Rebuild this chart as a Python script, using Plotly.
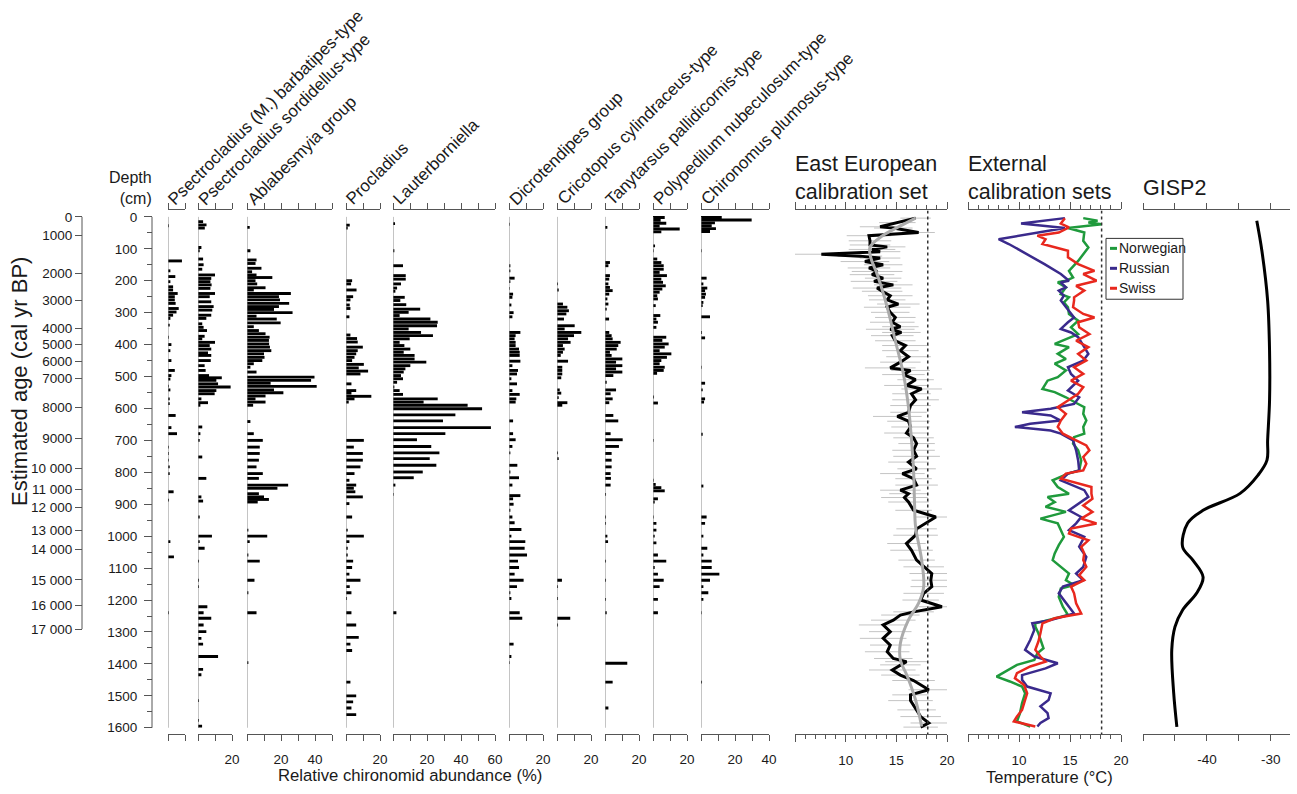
import plotly.graph_objects as go

W, H = 1297, 794          # reference picture size (coordinates below are in its pixels)
FIG_W = 1305              # layout width (the page is captured ~8px wider and scaled back)
FONT = "Liberation Sans, Arial, Helvetica, sans-serif"

# ---------------- data ----------------
taxa = ["Psectrocladius (M.) barbatipes-type", "Psectrocladius sordidellus-type",
        "Ablabesmyia group", "Procladius", "Lauterborniella", "Dicrotendipes group",
        "Cricotopus cylindraceus-type", "Tanytarsus pallidicornis-type",
        "Polypedilum nubeculosum-type", "Chironomus plumosus-type"]

d_barb = [28,138,169,187,203,219,229,240,250,260,271,287,298,308,318,339,377,400,419,450,481,497,508,530,542,570,585,622,660,679,721,741,762,783,804,861,887,1017,1065,1240]
v_barb = [0.5,8.2,1.4,4.3,1.4,3,3,5.7,4,4,4.5,6.3,5,3,1.4,1,0.5,2,1.4,2,4,2,1.4,0.5,1.4,1,1,4.5,2,5.3,0.5,0.5,0.5,1,1,3.3,0.6,1.4,3.5,0.5]

d_sord = [15,25,35,96,106,132,150,164,182,193,203,213,224,240,250,266,281,292,308,318,335,346,356,374,382,393,403,414,426,434,450,466,481,497,504,512,523,533,544,554,570,582,590,658,679,700,752,819,877,890,940,1000,1017,1038,1078,1138,1158,1221,1240,1257,1278,1299,1320,1338,1377,1417,1434,1515,1577,1595]
v_sord = [3,5,4,2,1,3,3.3,2.5,10,7.8,7.3,8,7.3,10,6.9,7.8,9.2,8.4,7.8,4.9,2.5,3.3,5.3,3.9,2.5,10,6.9,7.8,5.9,7.8,7.5,3.9,4.5,6.5,14,10.8,11.8,19.2,10.8,9.8,2,5.9,1.4,2.5,1.4,1,2.5,4.9,2,3,1,8.2,1,3.9,0.6,0.6,0.6,5.5,3.3,7.8,3.3,4.9,2,3,11.8,3,2,0.6,0.6,2.4]

d_abla = [33,106,135,146,161,172,182,190,200,210,222,229,240,250,260,271,281,290,300,311,320,332,344,356,366,377,387,398,408,419,429,440,450,460,471,486,502,512,521,531,542,551,561,570,580,590,641,679,700,721,741,762,783,804,819,840,850,867,877,885,893,981,1000,1017,1059,1078,1138,1177,1240,1396]
v_abla = [1.6,2,5.6,5,8.5,3,5.6,14.9,5,6,10.9,4,25.8,18.8,19.4,24.8,18.8,15.9,26.8,5.6,17.5,19.8,4,7,10.9,13.3,12.9,13,13.5,14.3,10,10.3,9,4,2,5.6,39.7,37.7,13.9,41,15.9,21.4,10.9,5,10.9,3.6,2,4,9.3,7.5,7.5,7,5.6,9.3,7,24.2,17.9,7,10,12.9,6.3,0.8,11.9,1.6,0.8,7.5,4.4,0.8,5.6,0.8]

d_proc = [26,35,200,210,229,250,260,276,287,313,370,381,392,408,419,429,440,450,462,473,483,492,523,544,552,562,570,580,700,721,741,762,783,804,825,840,850,861,877,898,940,981,1000,1017,1038,1059,1078,1098,1119,1138,1158,1177,1195,1240,1278,1317,1338,1358,1457,1500,1519,1538,1559]
v_proc = [2.2,1,3.6,3,6.2,4.2,2.6,2.2,2.6,2,2.6,6.5,6.9,9.9,6.9,6,5,3.6,10.5,7.5,13,8.5,3.2,6,3.2,14.9,5,1.6,10.5,4.6,9.9,9.9,8.5,5,2,6,4.6,5.5,9.9,2,3.6,1,10.5,2,1,1,4.2,3.6,2,8.5,2.2,3.2,0.6,3.2,6,7.5,2.6,3.6,2.6,6,4.2,3.2,6]

d_laut = [21,106,153,184,195,210,223,233,252,262,275,289,299,309,320,330,341,351,362,372,382,393,403,414,424,434,445,455,466,476,486,497,507,518,533,544,556,570,580,590,601,620,639,660,679,698,719,739,757,778,799,817,840,869,1240]
v_laut = [1.2,0.8,5.9,7.5,7.5,4.7,2.4,1.4,6.9,4.3,7.8,16,9.2,3.9,22,26.3,25.9,9.2,16.5,23.5,9.8,3.9,6.7,10.2,6.3,12.7,12.7,19.6,10.2,7.3,6.3,4.7,5.9,2.4,0.8,3.9,5.9,26.3,18,43.9,52.4,36.7,29.4,57.6,30.8,14.1,22.5,27.3,21.6,25.5,17.5,12.2,1.4,0.4,2]

d_dicr = [23,153,169,192,203,224,242,252,276,300,313,362,372,382,393,403,414,424,434,452,466,481,492,507,523,544,556,570,580,639,679,698,719,739,778,799,817,840,873,883,900,919,940,958,979,1000,1017,1038,1059,1078,1098,1119,1138,1158,1177,1195,1240,1257,1338,1377,1396]
v_dicr = [0.4,0.8,0.8,3.3,0.8,0.4,2.4,2,1.4,2.7,2,6.7,3.9,3.3,3.9,3.9,5.9,6.3,6.3,6.7,2,5.3,4.7,1.4,4.7,2,6.3,4.3,3.9,2.4,2.4,3.9,2,0.8,4.9,0.8,5.9,2,6.7,2.4,2.7,0.8,2,3.3,7.3,1.4,9.6,9.2,10.6,5.3,5.9,3.3,8.6,4.7,0.8,1.4,6.3,7.8,2.7,1.4,0.4]

d_cric = [210,229,273,283,294,304,320,341,351,362,372,382,393,403,414,424,434,452,471,481,492,504,542,552,566,582,590,739,757,1138,1158,1195,1257,1278]
v_cric = [0.6,1,3.5,6.1,7,5.5,4.1,10.4,4.5,14.3,10,6.5,8,3.5,4.5,3.5,2.2,6.5,3.1,3.1,3.1,2.5,1.6,2.5,1,6.1,3.1,0.6,1,2.9,0.6,0.6,7.8,0.6]

d_tany = [33,143,153,184,195,210,221,231,242,257,273,289,320,362,372,382,393,403,414,424,434,445,455,466,476,486,497,518,542,554,570,582,622,639,679,698,719,741,762,783,804,819,840,869,940,960,1000,1017,1078,1138,1198,1240,1398,1457,1538]
v_tany = [1.4,2.9,2,2.9,2.5,2,2.9,4.5,2.5,1.4,2,1,2.4,2.5,3.9,4.5,9.2,7.8,6.9,2.9,3.9,10.2,6.5,10.2,6.5,10.2,4.9,1,6.5,3.3,4.5,2.5,4.9,7.8,3.3,10.4,8.2,3.9,3.9,3.9,3.3,3.5,3.3,0.6,0.6,0.6,1.4,1.8,0.6,0.6,0.6,1,13.1,4.5,2]

d_poly = [2,11,20,29,38,47,91,106,132,143,153,164,174,184,195,205,216,226,236,247,257,278,309,320,330,346,377,387,398,408,419,429,440,450,460,471,481,490,564,583,700,825,838,848,858,883,893,940,960,981,1000,1021,1059,1078,1098,1119,1138,1158,1198,1240]
v_poly = [6.9,4.5,7.8,3.9,15.7,4.9,1.2,0.4,2.5,4.9,6.3,6.3,3.9,8.2,4.9,5.9,7.5,5.5,3.9,2.5,2.9,1.6,4.3,2,2.9,2,7.8,5.5,9.2,6.9,3.9,10.8,8.2,4.9,3.9,6.9,6.3,2.4,0.6,2.9,0.4,0.4,1.6,4.9,6.9,2.9,1,0.4,2,2,1,2,2.9,7.8,1,2.9,6.3,3.9,2.9,2.9]

d_chir = [2,10,19,28,37,46,106,192,210,223,231,242,252,268,278,313,362,379,471,521,542,570,580,681,843,940,960,1000,1038,1059,1078,1098,1119,1138,1158,1177,1198,1240,1457]
v_chir = [12.2,29.8,8.2,6.3,8.8,5.3,0.4,3.3,1.4,3.7,2.4,2.9,2.4,1.4,1,5.3,0.6,2.4,0.4,2.4,1,2.4,1.8,1,1.4,3.3,2.4,1.4,3.7,1.4,6.3,6.3,10.8,5.3,1.4,4.3,1.4,0.4,0.6]

taxa_depths = [d_barb, d_sord, d_abla, d_proc, d_laut, d_dicr, d_cric, d_tany, d_poly, d_chir]
taxa_values = [v_barb, v_sord, v_abla, v_proc, v_laut, v_dicr, v_cric, v_tany, v_poly, v_chir]
taxa_max = [10, 20, 50, 20, 60, 20, 20, 20, 20, 40]
taxa_ticklabels = [[], [20], [20, 40], [20], [20, 40, 60], [20], [20], [20], [20], [20, 40]]

# East European calibration set reconstruction
ee_depth = [4,18,31,35,49,59,75,88,94,102,109,117,123,129,140,150,160,171,181,192,202,213,223,233,247,260,273,283,299,315,330,344,352,362,372,388,403,419,438,455,473,481,494,510,528,539,554,573,591,612,625,640,658,677,692,710,731,750,768,789,804,820,840,856,867,879,893,919,940,977,997,1023,1044,1075,1096,1117,1138,1158,1179,1200,1221,1237,1247,1263,1278,1299,1320,1341,1362,1383,1393,1403,1419,1435,1452,1481,1497,1515,1544,1565,1585,1598]
ee_temp = [16.9,15.1,13.4,14.7,17.2,12.3,12.4,12.4,14.1,12.6,13.4,7.6,11.4,13.4,11.9,13.7,12.3,13.1,12.6,13.7,12.8,14.7,13.1,13.6,14.4,14.1,15.2,14.1,14.4,14.9,14.6,15.4,14.4,15.5,14.6,14.9,15.9,15.4,16.2,15.4,14.4,16.4,15.7,16.9,16.0,17.5,16.5,16.9,16.4,16.2,15.1,16.2,16.4,16.0,16.7,17.0,16.7,17.0,16.2,17.0,15.6,16.7,17.0,15.4,16.2,15.8,16.2,16.7,18.9,17.0,16.9,16.0,16.5,17.0,17.7,18.5,18.4,18.5,17.7,17.4,19.5,16.7,15.4,14.7,13.7,14.4,13.7,14.4,14.1,14.7,16.0,15.4,14.6,15.4,16.7,18.2,16.4,16.4,17.0,17.4,18.2,17.4]
ee_err = [1.5,1.8,2.0,1.9,1.6,2.2,2.1,2.0,1.8,2.3,
          2.0,2.6,2.2,2.0,2.4,1.9,2.1,2.5,2.2,1.8,
          2.3,1.9,2.4,2.0,2.2,1.8,2.1,2.3,1.9,2.0,
          2.2,1.8,2.4,1.9,2.1,2.0,2.3,1.8,2.2,2.0,
          2.5,1.9,2.1,1.8,2.2,2.0,1.9,2.3,2.0,1.8,
          2.4,2.1,1.9,2.2,2.0,1.8,2.1,2.3,2.0,1.9,
          2.2,1.8,2.1,2.0,1.9,2.3,2.0,1.8,2.1,2.0,
          2.2,1.9,2.1,1.8,2.0,2.2,1.9,2.1,2.0,1.8,
          2.3,2.0,1.9,2.2,2.4,2.1,2.3,2.0,2.2,1.9,
          2.1,2.0,2.3,1.9,2.1,2.0,1.8,2.2,1.9,2.0,
          1.8,1.7]
smooth_depth = [4,30,60,95,130,179,283,388,492,596,700,794,900,971,1075,1158,1210,1262,1335,1388,1440,1513,1596]
smooth_temp = [16.9,15.3,13.6,12.4,12.5,13.1,14.1,14.9,15.7,16.2,16.5,16.7,16.8,16.9,17.5,17.7,17.2,16.2,15.4,15.4,16.1,16.9,17.5]
modern_temp = 18.1

# External calibration sets
nor_depth = [4,12,18,23,35,49,75,96,117,138,169,190,200,205,221,242,252,268,283,304,325,346,367,388,398,408,429,445,460,481,502,513,539,549,565,586,596,617,638,658,679,690,710,731,763,794,804,825,846,867,877,893,908,924,945,960,981,1002,1028,1054,1075,1096,1117,1138,1153,1164,1190,1221,1247,1273,1283,1304,1325,1351,1367,1388,1403,1424,1440,1455,1471,1492,1523,1554,1580,1596]
nor_temp = [16.3,17.7,16.8,18.1,14.8,16.4,16.3,16.8,16.3,15.8,14.9,15.3,14.6,13.8,14.6,14.1,14.9,14.4,14.8,14.9,15.8,15.1,15.8,14.3,13.5,14.9,13.8,14.6,13.5,14.6,13.8,12.8,12.3,13.5,14.6,15.8,16.4,16.3,16.6,16.3,16.4,15.4,15.3,15.8,16.1,15.9,14.8,13.3,13.8,14.9,12.8,13.5,12.6,14.6,12.1,13.8,14.1,14.4,13.9,13.5,13.3,14.1,14.9,14.6,15.4,14.1,13.9,14.3,14.8,11.6,11.6,11.9,12.1,12.4,11.8,11.5,9.8,8.7,7.8,9.1,10.3,10.6,10.3,10.1,9.8,11.1]
rus_depth = [4,21,35,70,85,117,148,179,200,205,221,231,247,262,283,304,315,330,351,362,377,408,429,450,471,492,513,544,565,586,601,612,622,638,648,658,669,679,700,731,763,794,804,825,856,877,898,919,940,960,981,1002,1033,1065,1096,1117,1138,1158,1179,1210,1242,1263,1273,1294,1325,1356,1377,1398,1414,1435,1450,1471,1492,1513,1533,1554,1570,1585,1596]
rus_temp = [14.5,10.2,14.5,8.0,9.0,10.8,12.5,14.1,14.9,14.1,14.6,13.9,14.4,14.1,14.6,15.1,15.4,14.8,14.1,15.1,15.8,16.4,16.8,16.3,14.8,15.1,15.8,14.8,15.9,15.4,13.1,10.3,13.1,14.1,11.1,9.6,13.1,14.1,15.3,15.6,15.8,15.9,14.8,14.1,16.4,16.8,15.8,14.9,16.1,15.6,14.9,16.4,15.9,16.6,16.3,15.6,16.3,14.3,13.9,14.6,15.4,13.1,11.3,11.5,11.1,10.6,11.5,13.8,12.6,10.3,10.3,10.8,13.1,12.9,12.1,12.8,12.9,12.1,11.8]
swi_depth = [4,21,33,49,59,70,85,106,127,148,169,179,200,216,231,252,262,283,304,315,330,346,367,388,408,429,450,471,492,513,533,554,575,596,617,638,658,679,700,716,731,752,773,794,804,820,846,867,883,904,924,945,960,976,992,1013,1033,1054,1075,1096,1122,1138,1158,1179,1210,1242,1257,1273,1304,1330,1356,1377,1393,1408,1429,1445,1466,1492,1513,1544,1565,1580,1596]
swi_temp = [14.5,14.1,14.9,13.9,11.8,12.6,12.3,14.8,14.8,15.8,17.4,16.3,17.6,15.6,16.4,15.4,15.4,15.3,16.3,17.4,15.8,15.9,16.9,15.6,16.8,15.8,16.6,15.4,16.3,15.1,16.3,15.8,14.8,13.8,14.6,14.1,13.8,14.3,15.6,16.6,16.9,16.3,16.6,16.3,14.6,14.1,17.1,17.1,17.2,16.3,17.2,16.1,17.6,15.1,14.9,16.8,16.1,16.4,16.3,16.6,15.9,16.4,15.1,15.4,15.6,16.1,13.5,12.3,12.1,11.9,11.6,12.1,12.6,11.1,9.8,9.6,10.5,10.8,10.6,10.3,9.8,9.5,11.6]
ext_names = ["Norwegian", "Russian", "Swiss"]

# GISP2
gisp_depth = [12,106,262,419,575,700,762,809,866,919,959,1034,1075,1128,1178,1231,1284,1356,1491,1597]
gisp_value = [-32.2,-31.4,-30.5,-30.2,-30.2,-30.5,-30.6,-32.0,-34.8,-40.6,-43.0,-43.8,-42.2,-40.6,-41.6,-43.8,-45.0,-45.5,-45.2,-44.7]

# age-depth model ticks
age_labels = ["0","1000","2000","3000","4000","5000","6000","7000","8000","9000",
              "10 000","11 000","12 000","13 000","14 000","15 000","16 000","17 000"]
age_depth = [0,59,178,262,350,400,453,506,597,694,788,853,909,981,1041,1137,1216,1291]
depth_ticks = list(range(0, 1601, 100))

# ---------------- layout helpers ----------------
def fx(p):
    return p / W

def fy(p):
    return 1 - p / H

Y_TOP, Y_BOT = 210, 735
YRANGE = [1620, -20]
SCALE = 1.7
panel_x0 = [168, 198, 247, 346, 393, 509, 557, 605, 653, 701]
AX_COL = "#555555"
TXT_COL = "#1a1a1a"
TICK_FONT = dict(size=13.5, color=TXT_COL, family=FONT)

fig = go.Figure()
shapes = []
annotations = []

base_axis = dict(showline=True, linecolor=AX_COL, linewidth=1, mirror="ticks",
                 ticks="outside", ticklen=6, tickcolor=AX_COL, tickwidth=1,
                 showgrid=False, zeroline=False, anchor="y", fixedrange=True,
                 ticklabelstandoff=7, tickfont=TICK_FONT)

for i in range(10):
    n = i + 1
    axname = "x" if n == 1 else f"x{n}"
    key = "xaxis" if n == 1 else f"xaxis{n}"
    x0 = panel_x0[i]
    xmax = taxa_max[i]
    fig.add_trace(go.Bar(y=taxa_depths[i], x=taxa_values[i], orientation="h", width=9,
                         marker=dict(color="black", line=dict(width=0)),
                         xaxis=axname, yaxis="y", showlegend=False, hoverinfo="skip"))
    tv = list(range(0, xmax + 1, 10))
    tt = [str(t) if t in taxa_ticklabels[i] else "" for t in tv]
    fig.layout[key] = dict(base_axis, domain=[fx(x0), fx(x0 + xmax * SCALE)], range=[0, xmax],
                           tickmode="array", tickvals=tv, ticktext=tt)
    shapes.append(dict(type="line", xref=axname, yref="y", x0=0, x1=0, y0=0, y1=1600,
                       line=dict(color="#8a8a8a", width=1)))
    annotations.append(dict(text=taxa[i], xref="paper", yref="paper", x=fx(x0 - 6), y=fy(211),
                            xanchor="left", yanchor="bottom", textangle=-45, showarrow=False,
                            font=dict(size=17, color=TXT_COL, family=FONT)))

# East European panel (x11)
fig.add_trace(go.Scatter(x=ee_temp, y=ee_depth, mode="markers", marker=dict(size=1, opacity=0),
                         error_x=dict(type="data", array=ee_err, color="#c4c4c4", thickness=1, width=0),
                         xaxis="x11", yaxis="y", showlegend=False, hoverinfo="skip"))
fig.add_trace(go.Scatter(x=ee_temp, y=ee_depth, mode="lines", line=dict(color="black", width=3),
                         xaxis="x11", yaxis="y", showlegend=False, hoverinfo="skip"))
fig.add_trace(go.Scatter(x=smooth_temp, y=smooth_depth, mode="lines", line=dict(color="#ababab", width=3, shape="spline"),
                         xaxis="x11", yaxis="y", showlegend=False, hoverinfo="skip"))
temp_axis = dict(base_axis, range=[5, 20], tickmode="array", tickvals=[5, 10, 15, 20],
                 ticktext=["", "10", "15", "20"], ticklen=7,
                 minor=dict(tickmode="array", tickvals=[6,7,8,9,11,12,13,14,16,17,18,19],
                            ticklen=4, ticks="outside", tickcolor=AX_COL))
fig.layout["xaxis11"] = dict(temp_axis, domain=[fx(795), fx(947)])
shapes.append(dict(type="line", xref="x11", yref="y", x0=modern_temp, x1=modern_temp, y0=-20, y1=1620,
                   line=dict(color="#333333", width=1.5, dash="dot")))

# External calibration sets (x12)
ext_cols = ["#1f9a3c", "#3a2a8c", "#e8281e"]
for dd, tt, col in [(nor_depth, nor_temp, ext_cols[0]), (rus_depth, rus_temp, ext_cols[1]), (swi_depth, swi_temp, ext_cols[2])]:
    fig.add_trace(go.Scatter(x=tt, y=dd, mode="lines", line=dict(color=col, width=2.5),
                             xaxis="x12", yaxis="y", showlegend=False, hoverinfo="skip"))
fig.layout["xaxis12"] = dict(temp_axis, domain=[fx(968), fx(1121)])
shapes.append(dict(type="line", xref="x12", yref="y", x0=modern_temp, x1=modern_temp, y0=-20, y1=1620,
                   line=dict(color="#333333", width=1.5, dash="dot")))

# GISP2 (x13)
fig.add_trace(go.Scatter(x=gisp_value, y=gisp_depth, mode="lines", line=dict(color="black", width=3, shape="spline"),
                         xaxis="x13", yaxis="y", showlegend=False, hoverinfo="skip"))
fig.layout["xaxis13"] = dict(base_axis, domain=[fx(1143), fx(1290)], range=[-50, -27], tickmode="array",
                             tickvals=[-50, -45, -40, -35, -30], ticktext=["", "", "-40", "", "-30"], ticklen=6)

# depth axis and age axis
fig.add_trace(go.Scatter(x=[0], y=[0], mode="markers", marker=dict(opacity=0), xaxis="x", yaxis="y2",
                         showlegend=False, hoverinfo="skip"))
fig.layout["yaxis"] = dict(domain=[fy(Y_BOT), fy(Y_TOP)], range=YRANGE, anchor="free", position=fx(152),
                           side="left", tickmode="array", tickvals=depth_ticks, ticks="outside", ticklen=8,
                           tickcolor=AX_COL, showline=False, showgrid=False, zeroline=False, fixedrange=True,
                           ticklabelstandoff=4,
                           minor=dict(tickmode="array", tickvals=[t + 50 for t in depth_ticks[:-1]], ticklen=5,
                                      ticks="outside", tickcolor=AX_COL),
                           tickfont=TICK_FONT)
fig.layout["yaxis2"] = dict(overlaying="y", range=YRANGE, anchor="free", position=fx(82), side="left",
                            tickmode="array", tickvals=age_depth, ticktext=age_labels, ticks="outside",
                            ticklen=7, tickcolor=AX_COL, showline=False, showgrid=False, zeroline=False,
                            fixedrange=True, tickfont=TICK_FONT)
shapes.append(dict(type="line", xref="paper", yref="y", x0=fx(152), x1=fx(152), y0=0, y1=1600,
                   line=dict(color=AX_COL, width=1)))
shapes.append(dict(type="line", xref="paper", yref="y", x0=fx(82), x1=fx(82), y0=0, y1=age_depth[-1],
                   line=dict(color=AX_COL, width=1)))

# legend (drawn manually)
shapes.append(dict(type="rect", xref="paper", yref="paper", x0=fx(1106), x1=fx(1183), y0=fy(299), y1=fy(238),
                   line=dict(color="#333333", width=1), fillcolor="white"))
for k, (nm, col) in enumerate(zip(ext_names, ext_cols)):
    yy = 248 + k * 20
    shapes.append(dict(type="line", xref="paper", yref="paper", x0=fx(1110), x1=fx(1117), y0=fy(yy), y1=fy(yy),
                       line=dict(color=col, width=3)))
    annotations.append(dict(text=nm, xref="paper", yref="paper", x=fx(1117), y=fy(yy), xanchor="left",
                            yanchor="middle", showarrow=False, font=dict(size=14, color=TXT_COL, family=FONT)))

def txt(t, x, y, xa="left", ya="middle", size=15, angle=0, align="left"):
    annotations.append(dict(text=t, xref="paper", yref="paper", x=fx(x), y=fy(y), xanchor=xa, yanchor=ya,
                            showarrow=False, textangle=angle, align=align,
                            font=dict(size=size, color=TXT_COL, family=FONT)))

txt("Depth<br>(cm)", 154, 187, xa="right", align="right", size=16)
txt("Estimated age (cal yr BP)", 19, 382, xa="center", ya="middle", size=22, angle=-90)
txt("Relative chironomid abundance (%)", 410, 776, xa="center", size=16.7)
txt("East European<br>calibration set", 793, 177, size=21.5)
txt("External<br>calibration sets", 966, 177, size=21.5)
txt("GISP2", 1141, 187, size=21.5)
txt("Temperature (°C)", 1049, 778, xa="center", size=16.5)

fig.update_layout(width=FIG_W, height=H, margin=dict(l=0, r=0, t=0, b=0), paper_bgcolor="white",
                  plot_bgcolor="rgba(0,0,0,0)", barmode="overlay", shapes=shapes, annotations=annotations,
                  font=dict(family=FONT, color=TXT_COL), showlegend=False)

fig.write_html("out.html", config={"displayModeBar": False, "staticPlot": True},
               post_script="document.body.style.margin='0px';document.body.style.overflow='hidden';")
